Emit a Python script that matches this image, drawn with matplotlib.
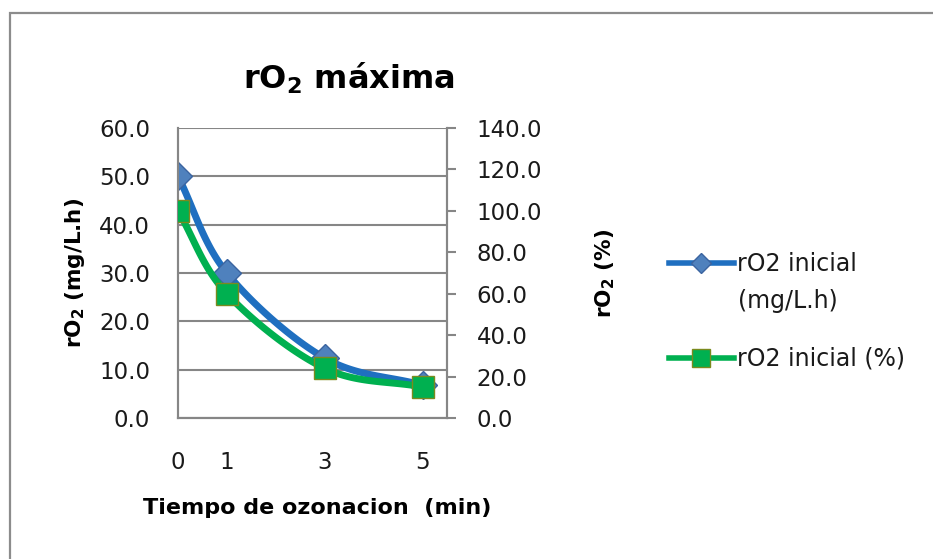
import matplotlib
matplotlib.use("Agg")
import matplotlib.pyplot as plt
from matplotlib.patches import Rectangle
import numpy as np

# data
tiempo = [0, 1, 3, 5]
ro2_mg = [50.0, 30.0, 12.4, 6.8]      # rO2 inicial (mg/L.h), left axis
ro2_pct = [100.0, 60.0, 24.0, 15.0]   # rO2 inicial (%), right axis
x_ticks = [0, 1, 3, 5]


def smooth(x, y, n=40):
    # Catmull-Rom spline, like Excel's "smoothed line"
    x = np.asarray(x, float)
    y = np.asarray(y, float)
    px = np.concatenate([[2 * x[0] - x[1]], x, [2 * x[-1] - x[-2]]])
    py = np.concatenate([[2 * y[0] - y[1]], y, [2 * y[-1] - y[-2]]])
    xs, ys = [], []
    t = np.linspace(0, 1, n)
    for i in range(1, len(px) - 2):
        p0, p1, p2, p3 = px[i - 1], px[i], px[i + 1], px[i + 2]
        q0, q1, q2, q3 = py[i - 1], py[i], py[i + 1], py[i + 2]
        m1x, m2x = (p2 - p0) / 6, (p3 - p1) / 6
        m1y, m2y = (q2 - q0) / 6, (q3 - q1) / 6
        b0 = (1 - t) ** 3
        b1 = 3 * t * (1 - t) ** 2
        b2 = 3 * t ** 2 * (1 - t)
        b3 = t ** 3
        xs.append(b0 * p1 + b1 * (p1 + m1x) + b2 * (p2 - m2x) + b3 * p2)
        ys.append(b0 * q1 + b1 * (q1 + m1y) + b2 * (q2 - m2y) + b3 * q2)
    return np.concatenate(xs), np.concatenate(ys)


blue = "#1F6FC0"
green = "#00B050"
grid_c = "#868686"
txt_c = "#1a1a1a"
fs = 16.5

fig = plt.figure(figsize=(9.33, 5.59), dpi=100)
ax = fig.add_axes([0.1908, 0.2522, 0.2883, 0.5188])
ax2 = ax.twinx()

# outer chart border
fig.patches.append(Rectangle((9.5 / 933, -0.1), 1.2, 1 - 13.5 / 559 + 0.1,
                             transform=fig.transFigure, fill=False,
                             edgecolor="#8c8c8c", lw=1.6, zorder=0))

sx, sy = smooth(tiempo, ro2_mg)
ax.plot(sx, sy, color=blue, lw=5, solid_capstyle="round", zorder=3)
ax.plot(tiempo, ro2_mg, ls="none", marker="D", ms=14, mfc="#4F81BD",
        mec="#3B64A0", mew=1, zorder=4)

sx2, sy2 = smooth(tiempo, ro2_pct)
ax2.plot(sx2, sy2, color=green, lw=5, solid_capstyle="round", zorder=3)
ax2.plot(tiempo, ro2_pct, ls="none", marker="s", ms=16, mfc=green,
         mec="#7A8A1E", mew=1, zorder=4)

ax.set_xlim(0, 5.5)
ax.set_ylim(0, 60)
ax2.set_ylim(0, 140)
ax.set_xticks(x_ticks)
ax.set_xticklabels([str(v) for v in x_ticks])
ax.set_yticks(np.arange(0, 61, 10))
ax.set_yticklabels([f"{v:.1f}" for v in np.arange(0, 61, 10)])
ax2.set_yticks(np.arange(0, 141, 20))
ax2.set_yticklabels([f"{v:.1f}" for v in np.arange(0, 141, 20)])

ax.yaxis.grid(True, color=grid_c, lw=1.5)
ax.set_axisbelow(True)
for a in (ax, ax2):
    for s in a.spines.values():
        s.set_color(grid_c)
        s.set_linewidth(1.5)
ax.spines["top"].set_visible(False)
ax2.spines["top"].set_visible(False)

ax.tick_params(axis="x", length=0, pad=24, labelsize=fs, colors=txt_c)
ax.tick_params(axis="y", length=0, pad=20, labelsize=fs, colors=txt_c)
ax2.tick_params(axis="y", length=6.5, width=1.5, color=grid_c, pad=15,
                labelsize=fs, labelcolor=txt_c)

ax.set_xlabel("Tiempo de ozonacion  (min)", fontsize=16, fontweight="bold")
ax.xaxis.set_label_coords(0.517, -0.31)
ax.xaxis.label.set_va("center")
ax.set_ylabel(r"rO$_\mathbf{2}$ (mg/L.h)", fontsize=15.5, fontweight="bold")
ax.yaxis.set_label_coords(-0.383, 0.5)
ax.yaxis.label.set_va("center")
ax2.set_ylabel(r"rO$_\mathbf{2}$ (%)", fontsize=15.5, fontweight="bold")
ax2.yaxis.set_label_coords(1.587, 0.5)
ax2.yaxis.label.set_va("center")

fig.text(349 / 933, 1 - 78 / 559, r"rO$_\mathbf{2}$ máxima", fontsize=23,
         fontweight="bold", ha="center", va="center")

h1, = ax.plot([], [], color=blue, lw=4, marker="D", ms=10.5, mfc="#4F81BD",
              mec="#3B64A0")
h2, = ax.plot([], [], color=green, lw=4, marker="s", ms=12.5, mfc=green,
              mec="#7A8A1E")
leg = fig.legend([h1, h2], ["rO2 inicial", "rO2 inicial (%)"],
                 loc="upper left", bbox_to_anchor=(669 / 933, 1 - 252 / 559),
                 frameon=False, fontsize=17, handlelength=2.75,
                 handletextpad=0.12, labelspacing=3.0, borderpad=0,
                 borderaxespad=0)
for t in leg.get_texts():
    t.set_color(txt_c)
fig.text(738 / 933, 1 - 301 / 559, "(mg/L.h)", fontsize=17, va="center",
         ha="left", color=txt_c)

fig.savefig("out.png", dpi=100)
